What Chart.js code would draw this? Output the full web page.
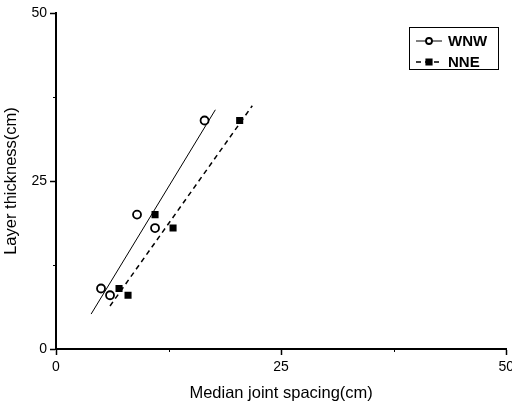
<!DOCTYPE html>
<html>
<head>
<meta charset="utf-8">
<script src="https://cdn.jsdelivr.net/npm/chart.js@4/dist/chart.umd.min.js"></script>
<style>
  html, body { margin: 0; padding: 0; background: #fff; }
  #wrap { width: 512px; height: 407px; }
</style>
</head>
<body>
<div id="wrap"><canvas id="chart" width="512" height="407"></canvas></div>
<script>
// --- data ---
const wnwX = [16.5, 9, 11, 5, 6];
const wnwY = [34, 20, 18, 9, 8];
const nneX = [20.4, 11, 13, 7, 8];
const nneY = [34, 20, 18, 9, 8];

// fitted lines (end points)
const wnwFitX = [3.9, 17.7];
const wnwFitY = [5.2, 35.6];
const nneFitX = [6.0, 21.8];
const nneFitY = [6.4, 36.2];

const axisTicks = [0, 25, 50];
const minorTicks = [12.5, 37.5];

const seriesNames = ["WNW", "NNE"];

const toPoints = (xs, ys) => xs.map((x, i) => ({ x: x, y: ys[i] }));

const FONT = "'Liberation Sans', Arial, sans-serif";

// tick minor (lebih pendek)
const minorTickPlugin = {
  id: "minorTicks",
  afterDraw(chart) {
    const { ctx, chartArea, scales } = chart;
    ctx.save();
    ctx.strokeStyle = "#000";
    ctx.lineWidth = 1;
    minorTicks.forEach((v) => {
      const px = Math.round(scales.x.getPixelForValue(v)) + 0.5;
      ctx.beginPath();
      ctx.moveTo(px, chartArea.bottom);
      ctx.lineTo(px, chartArea.bottom + 3);
      ctx.stroke();
      const py = Math.round(scales.y.getPixelForValue(v)) + 0.5;
      ctx.beginPath();
      ctx.moveTo(chartArea.left, py);
      ctx.lineTo(chartArea.left - 3, py);
      ctx.stroke();
    });
    ctx.restore();
  },
};

// legenda dalam kotak di pojok kanan atas
const legendMarkerRadius = { circle: 3, rect: 4 };
const boxLegendPlugin = {
  id: "boxLegend",
  afterDraw(chart) {
    const { ctx } = chart;
    const ds = chart.data.datasets;
    const box = { x: 409.5, y: 27.5, w: 89, h: 42 };
    ctx.save();
    ctx.strokeStyle = "#000";
    ctx.lineWidth = 1;
    ctx.strokeRect(box.x, box.y, box.w, box.h);

    seriesNames.forEach((name, i) => {
      const pts = ds[i];
      const line = ds[i + 2];
      const y = box.y + 13.5 + i * 21;
      ctx.beginPath();
      ctx.setLineDash(line.borderDash || []);
      ctx.lineWidth = line.borderWidth;
      ctx.strokeStyle = line.borderColor;
      ctx.moveTo(416, y);
      ctx.lineTo(442, y);
      ctx.stroke();
      ctx.setLineDash([]);
      Chart.helpers.drawPoint(ctx, {
        pointStyle: pts.pointStyle,
        radius: legendMarkerRadius[pts.pointStyle],
        borderWidth: pts.borderWidth,
        rotation: 0,
      }, 429, y);
      ctx.fillStyle = pts.backgroundColor;
      ctx.strokeStyle = pts.borderColor;
      ctx.lineWidth = pts.borderWidth;
      ctx.fill();
      ctx.stroke();

      ctx.fillStyle = "#000";
      ctx.font = "bold 15px " + FONT;
      ctx.textBaseline = "middle";
      ctx.fillText(name, 448, y + 1);
    });
    ctx.restore();
  },
};

const tickColor = (c) => (axisTicks.includes(c.tick && c.tick.value) ? "#000" : "rgba(0,0,0,0)");
const tickLabel = (v) => (axisTicks.includes(v) ? String(v) : "");

const chart = new Chart(document.getElementById("chart"), {
  type: "scatter",
  data: {
    datasets: [
      {
        label: seriesNames[0],
        data: toPoints(wnwX, wnwY),
        pointStyle: "circle",
        pointRadius: 4,
        pointHoverRadius: 4,
        borderWidth: 1.8,
        borderColor: "#000",
        backgroundColor: "#fff",
      },
      {
        label: seriesNames[1],
        data: toPoints(nneX, nneY),
        pointStyle: "rect",
        pointRadius: 5,
        pointHoverRadius: 5,
        borderWidth: 0,
        borderColor: "#000",
        backgroundColor: "#000",
      },
      {
        label: seriesNames[0] + " fit",
        data: toPoints(wnwFitX, wnwFitY),
        showLine: true,
        pointRadius: 0,
        borderWidth: 1,
        borderColor: "#000",
      },
      {
        label: seriesNames[1] + " fit",
        data: toPoints(nneFitX, nneFitY),
        showLine: true,
        pointRadius: 0,
        borderWidth: 1.5,
        borderDash: [5, 4],
        borderColor: "#000",
      },
    ],
  },
  options: {
    responsive: false,
    animation: false,
    layout: { padding: { top: 13, right: 4, left: 0, bottom: 0 } },
    plugins: { legend: { display: false }, tooltip: { enabled: false } },
    scales: {
      x: {
        type: "linear",
        min: 0,
        max: 50,
        afterFit(s) {
          s.height = 58;
          s.paddingLeft = 0;
          s.paddingRight = 0;
        },
        ticks: {
          stepSize: 12.5,
          autoSkip: false,
          maxRotation: 0,
          color: "#000",
          padding: 4,
          font: { family: FONT, size: 14 },
          callback: tickLabel,
        },
        grid: { drawOnChartArea: false, tickLength: 6, tickColor: tickColor, tickWidth: 1.5 },
        border: { display: true, color: "#000", width: 2 },
        title: {
          display: true,
          text: "Median joint spacing(cm)",
          color: "#000",
          font: { family: FONT, size: 16.5 },
          padding: { top: 0, bottom: 4 },
        },
      },
      y: {
        type: "linear",
        min: 0,
        max: 50,
        afterFit(s) {
          s.width = 56;
          s.paddingTop = 0;
          s.paddingBottom = 0;
        },
        ticks: {
          stepSize: 12.5,
          autoSkip: false,
          color: "#000",
          padding: 3,
          font: { family: FONT, size: 14 },
          callback: tickLabel,
        },
        grid: { drawOnChartArea: false, tickLength: 6, tickColor: tickColor, tickWidth: 1.5 },
        border: { display: true, color: "#000", width: 2 },
        title: {
          display: true,
          text: "Layer thickness(cm)",
          color: "#000",
          font: { family: FONT, size: 16.5 },
          padding: { top: 2, bottom: 0 },
        },
      },
    },
  },
  plugins: [minorTickPlugin, boxLegendPlugin],
});
</script>
</body>
</html>
